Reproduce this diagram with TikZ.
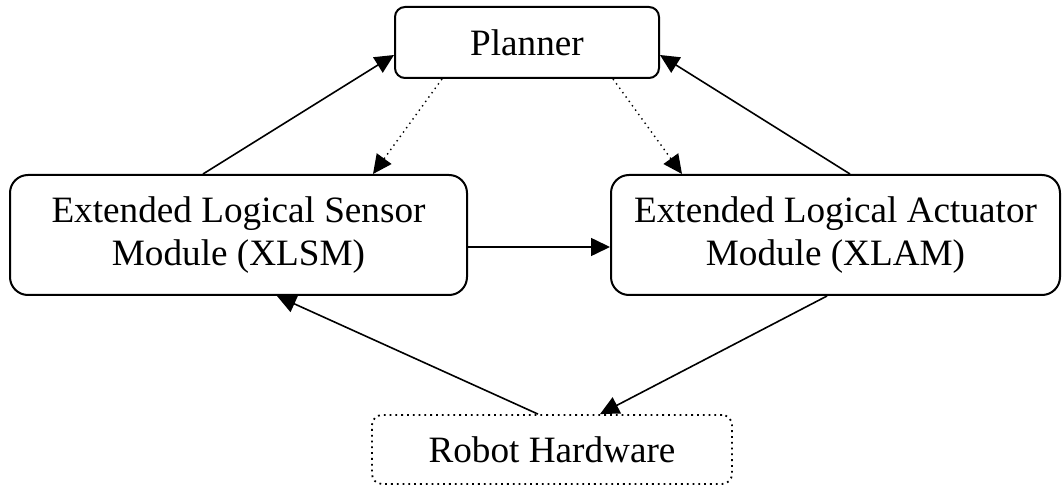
\documentclass[tikz,border=0pt]{standalone}
\usepackage{fontspec}
\setmainfont{Liberation Serif}
\usepackage{tikz}
\usetikzlibrary{arrows.meta, positioning, calc}
\tikzset{
  modbox/.style={
    rectangle, rounded corners=#1, draw=black, line width=1pt,
    fill=white, align=center, inner sep=0pt,
    font=\fontsize{18.6}{21.5}\selectfont
  },
  hwbox/.style={
    rectangle, rounded corners=5pt, draw=black, dotted, line width=0.9pt,
    align=center, inner sep=0pt,
    font=\fontsize{18.6}{21.5}\selectfont
  },
  arrow/.style={-{Triangle[length=9.5pt, width=9pt]}, line width=0.8pt},
  dotarrow/.style={-{Triangle[length=9.5pt, width=9pt]}, line width=0.7pt,
    dotted}
}

\begin{document}
\begin{tikzpicture}[x=0.5pt, y=-0.5pt]
        \useasboundingbox (0,0) rectangle (1062,486);
        % Modules
        \node[modbox=5pt, minimum width=132pt, minimum height=35.5pt]
          (planner) at (527,42.5) {Planner};
        \node[modbox=9pt, minimum width=228.5pt, minimum height=60pt]
          (xlsm) at (238.5,235)
          {Extended Logical Sensor\\Module (XLSM)};
        \node[modbox=9pt, minimum width=224.5pt, minimum height=60pt]
          (xlam) at (835.5,235)
          {Extended Logical Actuator\\Module (XLAM)};
        % Hardware
        \node[hwbox, minimum width=180pt, minimum height=34.5pt]
          (robot) at (552,449.5) {Robot Hardware};
        % Up to the planner
        \draw[arrow] ([shift={(-35.5,0)}]xlsm.north)
          -- ([shift={(0,12.5)}]planner.west);
        \draw[arrow] ([shift={(14.5,0)}]xlam.north)
          -- ([shift={(0,12.5)}]planner.east);
        % Down from the planner
        \draw[dotarrow] ([shift={(-85,0)}]planner.south)
          -- ([shift={(134.5,0)}]xlsm.north);
        \draw[dotarrow] ([shift={(86,0)}]planner.south)
          -- ([shift={(-153.5,0)}]xlam.north);
        % Sensor to actuator
        \draw[arrow] ([shift={(0,12)}]xlsm.east)
          -- ([shift={(0,12)}]xlam.west);
        % Hardware loop
        \draw[arrow] ([shift={(-14,0)}]robot.north)
          -- ([shift={(38.5,0)}]xlsm.south);
        \draw[arrow] ([shift={(-8.5,0)}]xlam.south)
          -- ([shift={(48,0)}]robot.north);
      \end{tikzpicture}
\end{document}
